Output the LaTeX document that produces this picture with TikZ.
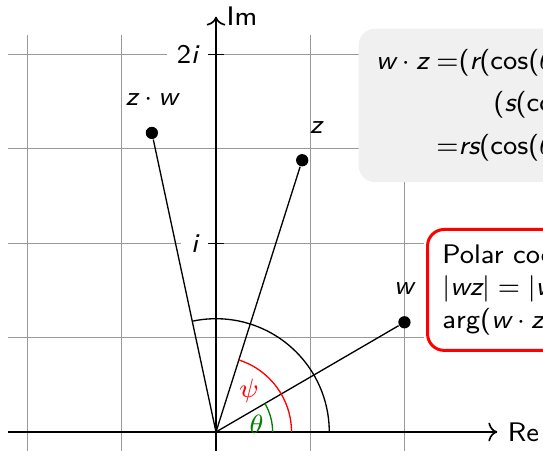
\documentclass[tikz,border=0pt]{standalone}
\usepackage{amsmath}
\usetikzlibrary{arrows.meta}
% sans serif Latin letters, digits and operators in math; Greek stays as it is
\SetSymbolFont{operators}{normal}{TU}{lmss}{m}{n}
\DeclareSymbolFont{cxsfletters}{TU}{lmss}{m}{sl}
\makeatletter
\count@=97
\loop
  \mathcode\count@=\numexpr "7000+\symcxsfletters*"100+\count@\relax
  \mathcode\numexpr\count@-32\relax=\numexpr "7000+\symcxsfletters*"100+\count@-32\relax
  \advance\count@ by 1
\ifnum\count@<123
\repeat
\makeatother
\tikzset{
  cxgrid/.style={draw=gray!80, line width=0.4pt},
  cxaxis/.style={->, draw=black, line width=0.5pt},
  cxray/.style={draw=black, line width=0.4pt},
  cxdot/.style={circle, fill=black, inner sep=0pt, minimum size=0.13cm},
  cxlabel/.style={font=\sffamily\fontsize{8.1}{9.9}\selectfont, inner sep=3pt},
  cxtick/.style={cxlabel, fill=white, anchor=east},
  cxangle/.style={font=\fontsize{8.1}{9.9}\selectfont, inner sep=0pt},
  cxformula/.style={cxlabel, fill=gray!12, rounded corners=5pt, anchor=north west, inner sep=5.3pt},
  cxpolar/.style={cxlabel, draw=red, fill=white, line width=0.9pt, rounded corners=5pt,
    anchor=north west, align=left, inner sep=4.5pt}
}

\begin{document}
\begin{tikzpicture}
  \clip (-2.288,-0.201) rectangle (3.464,4.576);
  % grid and tick labels
  \draw[cxgrid] (-2.2,-0.3) grid (2.2,4.2);
  \node[cxtick] (two) at (-0.08,4) {$2i$};
  \node[cxtick] (one) at (-0.08,2) {$i$};
  % axes
  \draw[cxaxis] (-2.2,0) -- (2.98,0) coordinate (xend);
  \draw[cxaxis] (0,-0.3) -- (0,4.4) coordinate (yend);
  \node[cxlabel, anchor=west] (re) at (xend) {Re};
  \node[cxlabel, anchor=west] (im) at (yend) {Im};
  \draw (-0.08,4) -- (0.08,4);
  \draw (-0.08,2) -- (0.08,2);
  % points
  \coordinate (O) at (0,0);
  \node[cxdot] (w) at (30.2:2.31) {};
  \node[cxdot] (z) at (72.4:3.02) {};
  \node[cxdot] (zw) at (102.1:3.24) {};
  \draw[cxray] (O) -- (w);
  \draw[cxray] (O) -- (z);
  \draw[cxray] (O) -- (zw);
  \node[cxlabel] (wlab) at (1.99,1.52) {$w$};
  \node[cxlabel] (zlab) at (1.06,3.22) {$z$};
  \node[cxlabel] (zwlab) at (-0.68,3.52) {$z\cdot w$};
  % angles
  \draw[green!50!black] (0.6,0) arc (0:30.2:0.6);
  \draw[red] (0.8,0) arc (0:72.4:0.8);
  \draw (1.2,0) arc (0:102.1:1.2);
  \node[cxangle, text=green!50!black] (theta) at (0.43,0.08) {$\theta$};
  \node[cxangle, text=red] (psi) at (0.35,0.44) {$\psi$};
  % boxes
  \node[cxformula] (prod) at (1.504,4.28) {$\begin{aligned}
    w\cdot z =& (r(\cos(\theta)+i\sin(\theta)))\cdot\\
    & \hspace{1.3em}(s(\cos(\psi)+i\sin(\psi)))\\
    =& rs(\cos(\theta+\psi)+i\sin(\theta+\psi))
  \end{aligned}$};
  \node[cxpolar] (polar) at (2.225,2.161) {Polar coordinates:\\
    $|wz|=|w||z|$\\
    $\arg(w\cdot z)=\arg(w)+\arg(z)$};
\end{tikzpicture}
\end{document}
